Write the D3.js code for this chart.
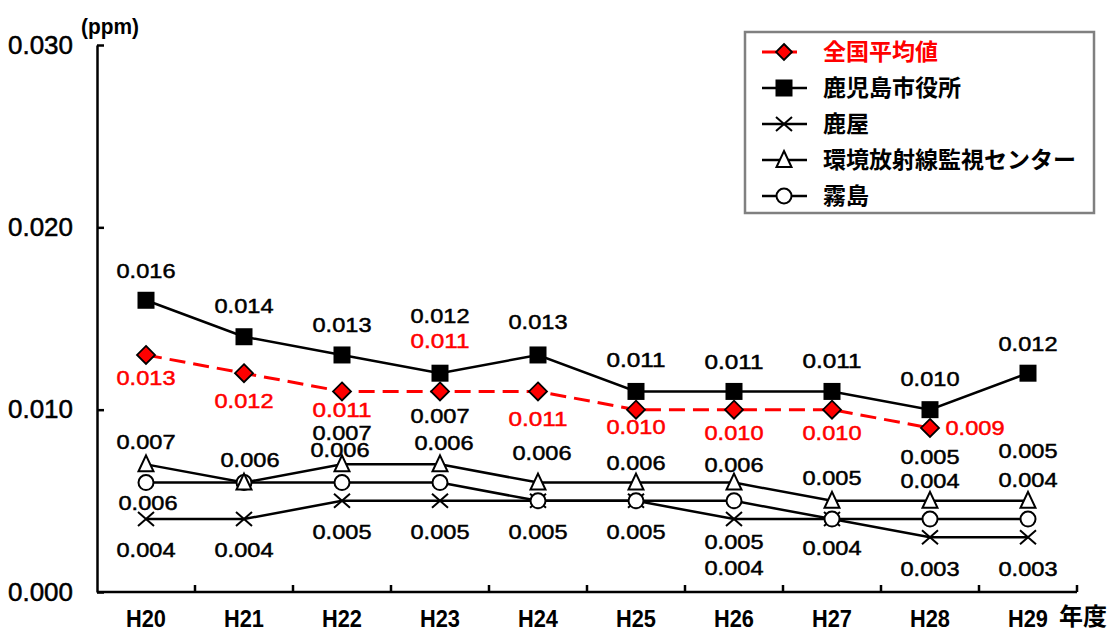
<!DOCTYPE html>
<html><head><meta charset="utf-8">
<script src="https://cdn.jsdelivr.net/npm/d3@7"></script>
<style>body{margin:0;background:#fff}svg{display:block}</style>
</head><body>
<svg id="c" width="1112" height="633"></svg>
<script>
// ---- data ----
const categories = ["H20","H21","H22","H23","H24","H25","H26","H27","H28","H29"];
const nationalAvg = [0.013,0.012,0.011,0.011,0.011,0.010,0.010,0.010,0.009,null];
const kagoshimaCity = [0.016,0.014,0.013,0.012,0.013,0.011,0.011,0.011,0.010,0.012];
const kanoya = [0.004,0.004,0.005,0.005,0.005,0.005,0.004,0.004,0.003,0.003];
const radiationCenter = [0.007,0.006,0.007,0.007,0.006,0.006,0.006,0.005,0.005,0.005];
const kirishima = [0.006,0.006,0.006,0.006,0.005,0.005,0.005,0.004,0.004,0.004];
const yTicks = [0.000,0.010,0.020,0.030];
const seriesNames = ["全国平均値","鹿児島市役所","鹿屋","環境放射線監視センター","霧島"];
const yUnit = "(ppm)";
const xUnit = "年度";

// ---- label layout (offsets from marker, null = no label) ----
const layoutNational = [[0,23],[0,27],[0,18],[0,-51],[0,27],[0,17],[0,23],[0,23],[45,0],null];
const layoutCity = [[0,-30],[0,-31],[0,-30],[0,-58],[0,-33],[0,-32],[0,-30],[0,-31],[0,-31],[0,-30]];
const layoutKanoya = [[0,31],[0,31],[0,31],[0,31],[0,31],[0,31],[0,49],[0,29],[0,31],[0,31]];
const layoutCenter = [[0,-23],[6,-23],[0,-32],[0,-49],[4,-30],[0,-20],[0,-18],[0,-23],[0,-44],[0,-50]];
const layoutKirishima = [[2,20],null,[-2,-33],[4,-40],null,null,[0,41],null,[0,-38],[0,-39]];

const svg = d3.select("#c");
const x = d3.scaleBand().domain(categories).range([97,1077]);
const y = d3.scaleLinear().domain([0,0.03]).range([592,45]);
const cx = c => x(c) + x.bandwidth()/2;
const fmt = d3.format(".3f");
const numFont = "Liberation Sans, Arial, sans-serif";
const cjkFont = "'Noto Sans CJK JP', sans-serif";

// ---- axes ----
const yAx = svg.append("g").attr("transform","translate(97,0)")
  .call(d3.axisLeft(y).tickValues(yTicks).tickSizeInner(-7).tickSizeOuter(0).tickPadding(24).tickFormat(fmt));
yAx.select(".domain").attr("stroke","#000").attr("stroke-width",2.5);
yAx.selectAll(".tick line").attr("stroke","#000").attr("stroke-width",2.5);
yAx.selectAll(".tick text").attr("font-family",numFont).attr("font-size",25).attr("fill","#000")
  .attr("stroke","#000").attr("stroke-width",0.5)
  .attr("textLength",65).attr("lengthAdjust","spacingAndGlyphs");

const xAx = svg.append("g").attr("transform","translate(0,592)")
  .call(d3.axisBottom(x).tickSize(0).tickPadding(18));
xAx.select(".domain").attr("stroke","#000").attr("stroke-width",2.5).attr("d","M97,0H1077");
xAx.selectAll(".tick text").attr("font-family",numFont).attr("font-size",24).attr("font-weight","bold").attr("fill","#000")
  .attr("textLength",40).attr("lengthAdjust","spacingAndGlyphs");
svg.append("g").selectAll("line").data(categories).join("line")
  .attr("x1",d=>x(d)+x.bandwidth()).attr("x2",d=>x(d)+x.bandwidth())
  .attr("y1",592).attr("y2",585).attr("stroke","#000").attr("stroke-width",2.5);

svg.append("text").attr("x",81).attr("y",26).attr("dy","0.35em").text(yUnit)
  .attr("font-family",numFont).attr("font-size",22).attr("font-weight","bold")
  .attr("textLength",58).attr("lengthAdjust","spacingAndGlyphs");
svg.append("text").attr("x",1059).attr("y",617).attr("dy","0.35em").text(xUnit)
  .attr("font-family",cjkFont).attr("font-size",24).attr("font-weight","bold");

// ---- markers ----
function drawMarker(g, type, px, py, legend){
  if(type==="square"){
    g.append("rect").attr("x",px-8.5).attr("y",py-8.5).attr("width",17).attr("height",17).attr("fill","#000");
  } else if(type==="diamond"){
    const s = legend?8:9;
    g.append("path").attr("d",`M${px},${py-s}L${px+s},${py}L${px},${py+s}L${px-s},${py}Z`)
      .attr("fill","#f00").attr("stroke","#000").attr("stroke-width",1.8);
  } else if(type==="cross"){
    g.append("path").attr("d",`M${px-8},${py-7}L${px+8},${py+7}M${px-8},${py+7}L${px+8},${py-7}`)
      .attr("stroke","#000").attr("stroke-width",2).attr("fill","none");
  } else if(type==="triangle"){
    g.append("path").attr("d",`M${px},${py-9}L${px+7.5},${py+7}L${px-7.5},${py+7}Z`)
      .attr("stroke","#000").attr("stroke-width",2).attr("fill","#fff");
  } else if(type==="circle"){
    g.append("circle").attr("cx",px).attr("cy",py).attr("r",7.5)
      .attr("stroke","#000").attr("stroke-width",2).attr("fill","#fff");
  }
}

const series = [
  {name:seriesNames[2], vals:kanoya, type:"cross", color:"#000", dash:null, layout:layoutKanoya},
  {name:seriesNames[4], vals:kirishima, type:"circle", color:"#000", dash:null, layout:layoutKirishima},
  {name:seriesNames[3], vals:radiationCenter, type:"triangle", color:"#000", dash:null, layout:layoutCenter},
  {name:seriesNames[1], vals:kagoshimaCity, type:"square", color:"#000", dash:null, layout:layoutCity},
  {name:seriesNames[0], vals:nationalAvg, type:"diamond", color:"#f00", dash:"16,8", layout:layoutNational}
];

const line = d3.line().defined(d=>d.v!=null).x(d=>cx(d.c)).y(d=>y(d.v));
series.forEach(s=>{
  const pts = categories.map((c,i)=>({c, v:s.vals[i]}));
  svg.append("path").datum(pts).attr("d",line).attr("fill","none")
    .attr("stroke",s.color).attr("stroke-width",s.dash?3:2.5).attr("stroke-dasharray",s.dash);
});
series.forEach(s=>{
  const g = svg.append("g");
  categories.forEach((c,i)=>{ if(s.vals[i]!=null) drawMarker(g, s.type, cx(c), y(s.vals[i])); });
});
// labels
series.forEach(s=>{
  const g = svg.append("g");
  categories.forEach((c,i)=>{
    const v = s.vals[i], L = s.layout[i];
    if(v==null || !L) return;
    g.append("text").attr("x",cx(c)+L[0]).attr("y",y(v)+L[1]).attr("dy","0.35em")
      .attr("text-anchor","middle").attr("font-family",numFont).attr("font-size",21)
      .attr("fill",s.color).attr("stroke",s.color).attr("stroke-width",0.5)
      .attr("textLength",59).attr("lengthAdjust","spacingAndGlyphs").text(fmt(v));
  });
});

// ---- legend ----
const lg = svg.append("g");
lg.append("rect").attr("x",745).attr("y",32).attr("width",349).attr("height",181)
  .attr("fill","#fff").attr("stroke","#808080").attr("stroke-width",2.5);
const legendOrder = [4,3,0,2,1];
legendOrder.forEach((si,row)=>{
  const s = series[si], ry = 52 + row*36;
  lg.append("line").attr("x1",762).attr("x2",s.dash?797:807).attr("y1",ry).attr("y2",ry)
    .attr("stroke",s.color).attr("stroke-width",s.dash?3:2.5).attr("stroke-dasharray",s.dash?"14,8":null);
  drawMarker(lg, s.type, 784, ry, true);
  lg.append("text").attr("x",823).attr("y",ry).attr("dy","0.35em").text(s.name)
    .attr("font-family",cjkFont).attr("font-size",23).attr("font-weight","bold").attr("fill",s.color);
});
</script>
</body></html>
